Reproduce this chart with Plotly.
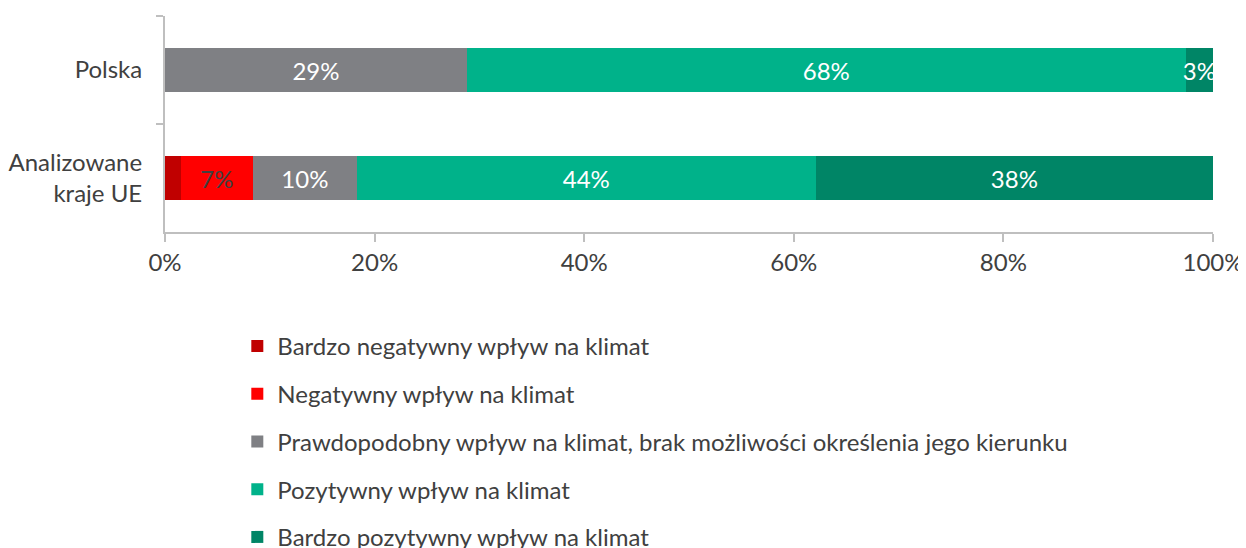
import plotly.graph_objects as go

categories = ["Polska", "Analizowane<br>kraje UE"]
series_names = [
    "Bardzo negatywny wpływ na klimat",
    "Negatywny wpływ na klimat",
    "Prawdopodobny wpływ na klimat, brak możliwości określenia jego kierunku",
    "Pozytywny wpływ na klimat",
    "Bardzo pozytywny wpływ na klimat",
]
very_negative = [0, 1.5]
negative = [0, 6.9]
uncertain = [28.8, 9.9]
positive = [68.6, 43.8]
very_positive = [2.6, 37.9]

very_negative_labels = ["", ""]
negative_labels = ["", "7%"]
uncertain_labels = ["29%", "10%"]
positive_labels = ["68%", "44%"]
very_positive_labels = ["3%", "38%"]

x_ticks = [0, 20, 40, 60, 80, 100]
x_tick_labels = ["0%", "20%", "40%", "60%", "80%", "100%"]

colors = ["#C00000", "#FF0000", "#7F8084", "#00B28A", "#008566"]
text_colors = ["#FFFFFF", "#404040", "#FFFFFF", "#FFFFFF", "#FFFFFF"]

values = [very_negative, negative, uncertain, positive, very_positive]
labels = [very_negative_labels, negative_labels, uncertain_labels, positive_labels, very_positive_labels]

FONT = "Lato"

fig = go.Figure()
for i, (name, vals, labs) in enumerate(zip(series_names, values, labels)):
    fig.add_trace(go.Bar(
        y=categories, x=vals, name=name, orientation="h",
        marker=dict(color=colors[i], line=dict(width=0)),
        text=labs, textposition="inside", insidetextanchor="middle",
        textangle=0, constraintext="none",
        textfont=dict(family=FONT, size=24, color=text_colors[i]),
        legendgroup=f"g{i}",
        hoverinfo="skip",
    ))

fig.update_layout(
    barmode="stack",
    bargap=0.6,
    width=1246, height=548,
    margin=dict(l=157, r=41, t=8, b=324, autoexpand=False),
    plot_bgcolor="white", paper_bgcolor="white",
    font=dict(family=FONT, size=24, color="#404040"),
    showlegend=True,
    legend=dict(
        orientation="v", traceorder="grouped", tracegroupgap=13.5,
        x=0.069, xanchor="left", y=-0.426, yanchor="top",
        font=dict(family=FONT, size=24, color="#404040"),
        itemwidth=30,
        bgcolor="rgba(0,0,0,0)",
    ),
    xaxis=dict(
        range=[0, 100], tickvals=x_ticks, ticktext=x_tick_labels,
        showline=True, linecolor="#BFBFBF", linewidth=2,
        ticks="outside", ticklen=8, tickcolor="#BFBFBF", tickwidth=2,
        showgrid=False, zeroline=False,
        tickfont=dict(family=FONT, size=24, color="#404040"),
        fixedrange=True,
    ),
    yaxis=dict(
        autorange="reversed", type="category",
        showline=True, linecolor="#BFBFBF", linewidth=2,
        ticks="outside", ticklen=7, tickcolor="#BFBFBF", tickwidth=2,
        tickson="boundaries", showgrid=False, zeroline=False,
        tickfont=dict(family=FONT, size=24, color="#404040"),
        ticklabelstandoff=16,
        fixedrange=True,
    ),
)

fig.write_html("out.html")
